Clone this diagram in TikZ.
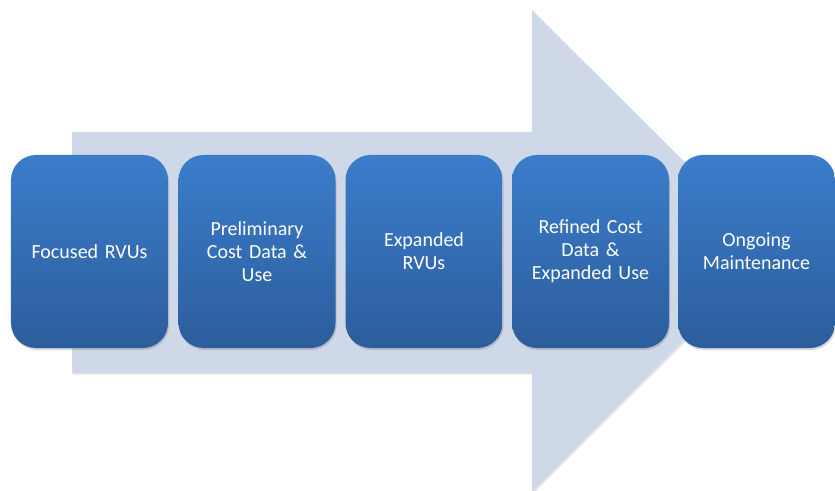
\documentclass[tikz,border=0pt]{standalone}
\usepackage{fontspec}
\setmainfont{Carlito}[WordSpace=0.8]
\usetikzlibrary{shadows}
\definecolor{arrowfill}{HTML}{CFD8E8}
\definecolor{boxtop}{HTML}{3B7DCB}
\definecolor{boxbot}{HTML}{2C5D9C}
\tikzset{
  stagebox/.style={rounded corners=25bp, minimum width=157bp, minimum height=193bp,
    top color=boxtop, bottom color=boxbot, draw=none, text=white,
    align=center, text width=145bp, font=\fontsize{20bp}{23bp}\selectfont,
    drop shadow={shadow xshift=1bp, shadow yshift=-2bp, opacity=0.25, fill=black!60}},
}
\begin{document}
\begin{tikzpicture}[x=1bp,y=-1bp]
\useasboundingbox (0,0) rectangle (835,491);
\fill[white] (0,0) rectangle (835,491);
\fill[arrowfill, drop shadow={shadow xshift=1bp, shadow yshift=-1.5bp, opacity=0.2, fill=black!50}]
  (72,132) -- (532,132) -- (532,10) -- (774,251) -- (532,492) -- (532,373) -- (72,373) -- cycle;
\node[stagebox] (s1) at (89.5,251.5) {Focused RVUs};
\node[stagebox] (s2) at (257,251.5) {Preliminary\\Cost Data \&\\Use};
\node[stagebox] (s3) at (424,251.5) {Expanded\\RVUs};
\node[stagebox] (s4) at (590.5,251.5) {Refined Cost\\Data \&\\Expanded Use};
\node[stagebox] (s5) at (756.5,251.5) {Ongoing\\Maintenance};
\end{tikzpicture}
\end{document}
